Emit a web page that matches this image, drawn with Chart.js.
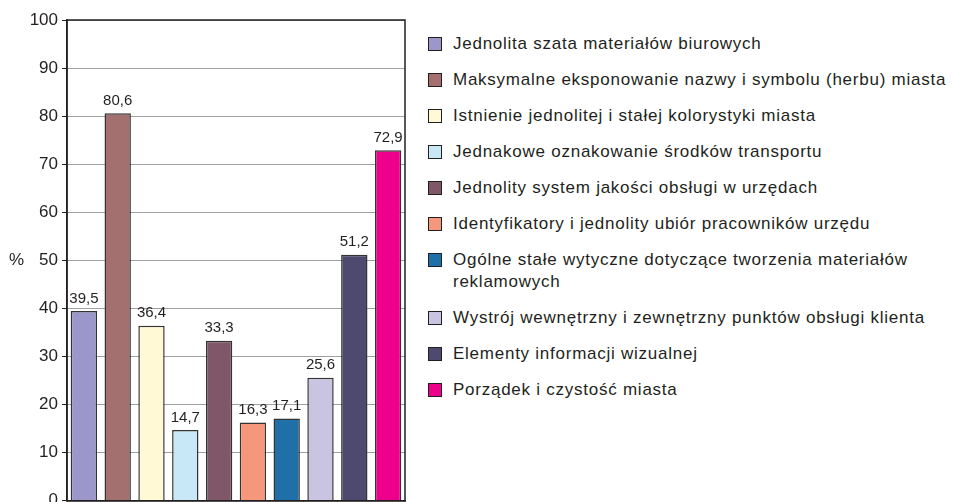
<!DOCTYPE html>
<html>
<head>
<meta charset="utf-8">
<script src="https://cdn.jsdelivr.net/npm/chart.js@4"></script>
<style>
  body { margin: 0; background: #fff; font-family: "Liberation Sans", Arial, sans-serif; }
  #wrap { position: relative; width: 953px; height: 502px; overflow: hidden; }
  #chartBox { position: absolute; left: 0; top: 0; width: 420px; height: 515px; }
  #legenda { position: absolute; left: 428px; top: 33px; width: 525px; }
  .item { display: flex; align-items: flex-start; margin-bottom: 14px; font-size: 17px; letter-spacing: 0.75px; line-height: 22px; color: #231f20; white-space: nowrap; }
  .caja { width: 12px; height: 12px; border: 1px solid #231f20; margin-top: 4px; margin-right: 11px; flex: none; }
</style>
</head>
<body>
<div id="wrap">
  <div id="chartBox"><canvas id="grafico"></canvas></div>
  <div id="legenda"></div>
</div>
<script>
const kategorie = [
    'Jednolita szata materiałów biurowych',
    'Maksymalne eksponowanie nazwy i symbolu (herbu) miasta',
    'Istnienie jednolitej i stałej kolorystyki miasta',
    'Jednakowe oznakowanie środków transportu',
    'Jednolity system jakości obsługi w urzędach',
    'Identyfikatory i jednolity ubiór pracowników urzędu',
    'Ogólne stałe wytyczne dotyczące tworzenia materiałów<br>reklamowych',
    'Wystrój wewnętrzny i zewnętrzny punktów obsługi klienta',
    'Elementy informacji wizualnej',
    'Porządek i czystość miasta'
];
const wartosci = [39.5, 80.6, 36.4, 14.7, 33.3, 16.3, 17.1, 25.6, 51.2, 72.9];
const kolory = ['#9b97cb', '#a3706f', '#fff9d6', '#c8e8f8', '#7f5768', '#f5977a', '#1f6fa8', '#c8c4e2', '#4e496e', '#ec008c'];
const osY = { min: 0, max: 100, krok: 10 };

// legenda w HTML (jedna pozycja ma dwie linie)
const legenda = document.getElementById('legenda');
kategorie.forEach((k, i) => {
    const el = document.createElement('div');
    el.className = 'item';
    el.innerHTML = `<span class="caja" style="background:${kolory[i]}"></span><span>${k}</span>`;
    legenda.appendChild(el);
});

// etykiety nad słupkami, ramka i znak %
const dodatki = {
    id: 'dodatki',
    afterDatasetsDraw(chart) {
        const ctx = chart.ctx;
        const meta = chart.getDatasetMeta(0);
        ctx.save();
        ctx.font = '15px "Liberation Sans", Arial, sans-serif';
        ctx.fillStyle = '#231f20';
        ctx.textAlign = 'center';
        ctx.textBaseline = 'bottom';
        meta.data.forEach((bar, i) => {
            ctx.fillText(wartosci[i].toFixed(1).replace('.', ','), bar.x, bar.y - 5);
        });
        const a = chart.chartArea;
        ctx.strokeStyle = '#231f20';
        ctx.lineWidth = 1.5;
        ctx.strokeRect(a.left, a.top, a.right - a.left, a.bottom - a.top);
        ctx.font = '17px "Liberation Sans", Arial, sans-serif';
        ctx.textAlign = 'left';
        ctx.textBaseline = 'middle';
        ctx.fillText('%', 9, chart.scales.y.getPixelForValue(50));
        ctx.restore();
    }
};

new Chart(document.getElementById('grafico').getContext('2d'), {
    type: 'bar',
    data: {
        labels: kategorie.map((k, i) => String(i + 1)),
        datasets: [{
            data: wartosci,
            backgroundColor: kolory,
            borderColor: '#333',
            borderWidth: 1.5,
            barPercentage: 0.78,
            categoryPercentage: 1
        }]
    },
    options: {
        responsive: true,
        maintainAspectRatio: false,
        animation: false,
        layout: { padding: { top: 20, right: 15, left: 0, bottom: 0 } },
        plugins: { legend: { display: false }, tooltip: { enabled: false } },
        scales: {
            y: {
                min: osY.min,
                max: osY.max,
                ticks: {
                    stepSize: osY.krok,
                    padding: 4,
                    color: '#231f20',
                    font: { family: '"Liberation Sans", Arial, sans-serif', size: 17 }
                },
                grid: { color: '#a0a0a0', tickColor: '#231f20', tickLength: 5, lineWidth: 1 },
                border: { color: '#231f20', width: 1.5 },
                afterFit: s => { s.width = 67; }
            },
            x: {
                ticks: { display: false },
                grid: { offset: true, drawOnChartArea: false, tickLength: 4, color: '#231f20' },
                border: { color: '#231f20', width: 1.5 },
                afterFit: s => { s.height = 2; }
            }
        }
    },
    plugins: [dodatki]
});
</script>
</body>
</html>
